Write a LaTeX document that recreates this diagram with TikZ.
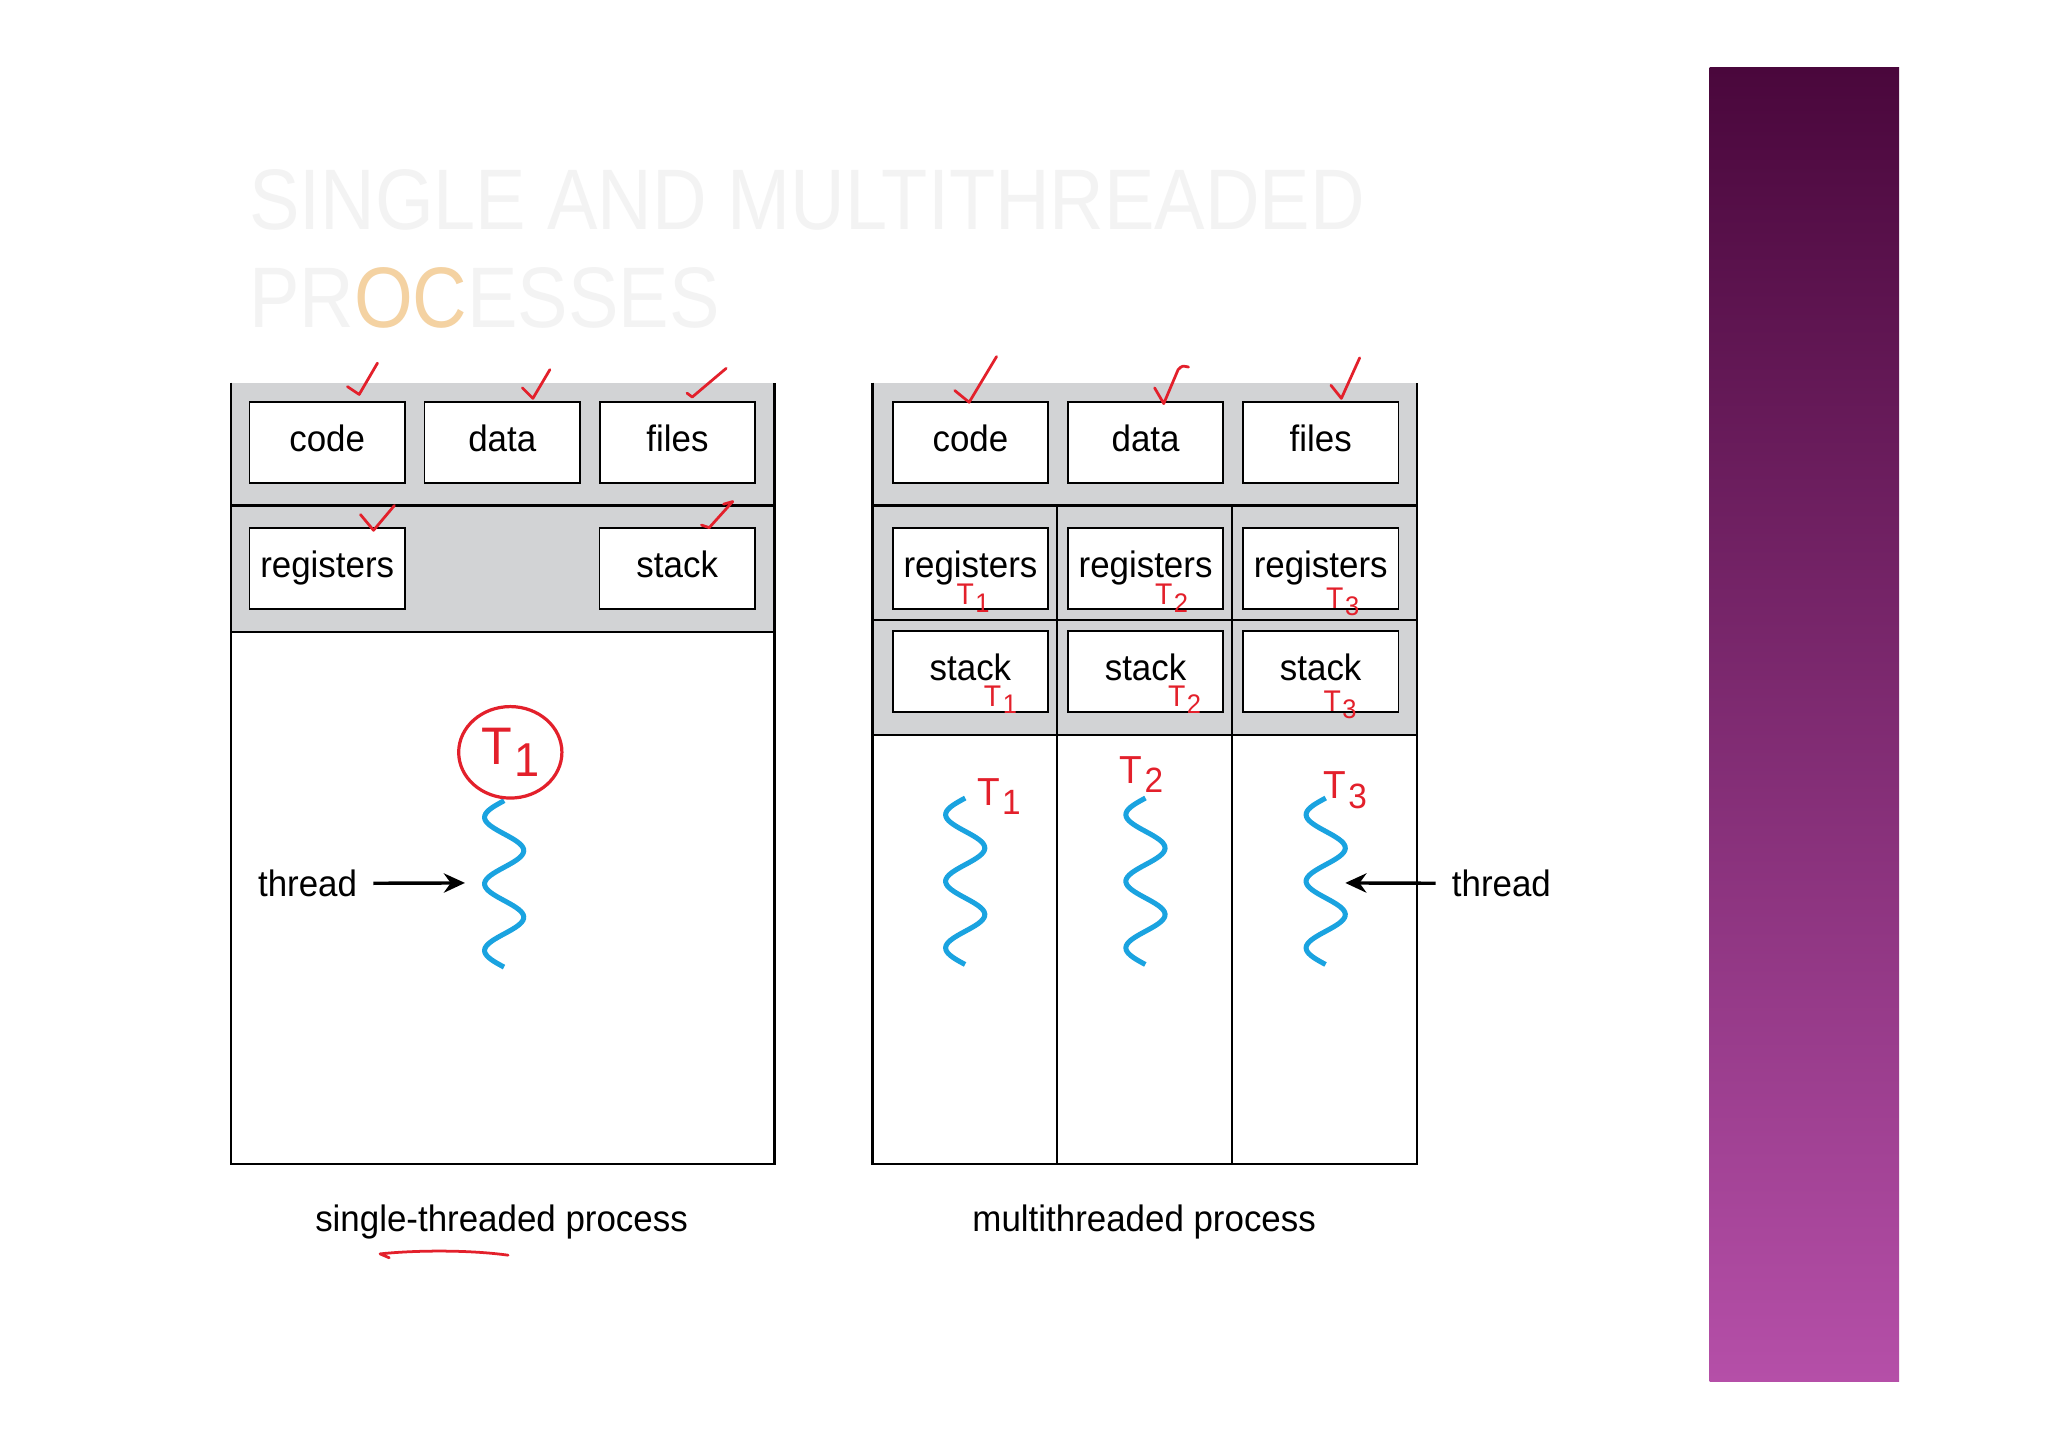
\documentclass[tikz,border=0pt]{standalone}
\usepackage{fontspec}
\setmainfont{Liberation Sans}[FakeStretch=0.95]
\newfontfamily\titlefont{Liberation Sans}[FakeStretch=0.88]
\usepackage{xcolor}
\usepackage{tikz}
\usetikzlibrary{positioning,backgrounds,arrows.meta,shapes.geometric}
\definecolor{procgray}{HTML}{D2D3D5}
\definecolor{inkred}{HTML}{E3202B}
\definecolor{thrblue}{HTML}{1AA3E0}
\definecolor{bartop}{HTML}{4A073C}
\definecolor{barbot}{HTML}{B54FA8}
\definecolor{titlegray}{HTML}{F3F3F3}
\definecolor{titleorange}{HTML}{F4D2A2}
\newcommand{\hT}[1]{T\kern0.05em\raisebox{-0.45ex}{\scalebox{0.9}{#1}}}

\begin{document}
\begin{tikzpicture}[x=0.01cm, y=-0.01cm, font=\fontsize{8}{9.6}\selectfont,
  >={Stealth[length=4.6pt, width=4.2pt]},
  box/.style={draw, fill=white, line width=0.4pt, minimum width=1.19cm, minimum height=0.62cm,
              inner sep=0pt, outer sep=0pt, text height=5.9pt, text depth=1.9pt},
  frame/.style={line width=0.45pt},
  ink/.style={draw=inkred, line width=0.6pt, line cap=round, line join=round},
  tag/.style={text=inkred, inner sep=0pt, font=\fontsize{6.5}{7}\selectfont},
  bigtag/.style={tag, font=\fontsize{8.5}{9}\selectfont},
  wavy/.style={thrblue, line width=1.1pt},
  ttl/.style={anchor=base west, inner sep=0pt, text=titlegray, font=\titlefont\fontsize{18.7}{20}\selectfont},
  node distance=1.72mm and 1.5mm]
  \useasboundingbox (0,0) rectangle (1568,1109);
  \node[ttl] (title1) at (190,176) {SINGLE AND MULTITHREADED};
  \node[ttl] (title2) at (190,251) {PR{\color{titleorange}OC}ESSES};

  \node[box] (code1) at (250.5,339) {code};
  \node[box, right=of code1] (data1) {data};
  \node[box, right=of data1] (files1) {files};
  \node[box] (regs1) at (250.5,435) {registers};
  \node[box] (stack1) at (518.5,435) {stack};

  \node[box] (code2) at (743,339) {code};
  \node[box, right=of code2] (data2) {data};
  \node[box, right=of data2] (files2) {files};
  \node[box] (regsA) at (743,435) {registers};
  \node[box, right=of regsA] (regsB) {registers};
  \node[box, right=of regsB] (regsC) {registers};
  \node[box, below=of regsA] (stackA) {stack};
  \node[box, below=of regsB] (stackB) {stack};
  \node[box, below=of regsC] (stackC) {stack};

  \draw[wavy] plot[domain=0:2.5, samples=90, smooth] ({386-15*sin(360*\x)}, {613+51*\x});
  \draw[wavy] plot[domain=0:2.5, samples=90, smooth] ({739-15*sin(360*\x)}, {611+51*\x});
  \draw[wavy] plot[domain=0:2.5, samples=90, smooth] ({877-15*sin(360*\x)}, {611+51*\x});
  \draw[wavy] plot[domain=0:2.5, samples=90, smooth] ({1015-15*sin(360*\x)}, {611+51*\x});

  \coordinate (tipL) at (356,676);
  \coordinate (tipR) at (1030,676);
  \node[anchor=base] (thrL) at (235.5,686.5) {thread};
  \node[anchor=base] (thrR) at (1149.5,686.5) {thread};
  \draw[->, line width=0.75pt] (thrL) -- (tipL);
  \draw[->, line width=0.75pt] (thrR) -- (tipR);

  \node[ellipse, draw=inkred, line width=0.7pt, minimum width=0.79cm, minimum height=0.70cm, inner sep=0pt,
        text=inkred, font=\fontsize{11.5}{12}\selectfont] (circT) at (390.7,576) {\hT{1}};
  \node[tag] (tR1) at (745,458) {\hT{1}};
  \node[tag] (tR2) at (897,458) {\hT{2}};
  \node[tag] (tR3) at (1028,461) {\hT{3}};
  \node[tag] (tS1) at (766,536) {\hT{1}};
  \node[tag] (tS2) at (907,536) {\hT{2}};
  \node[tag] (tS3) at (1026,540) {\hT{3}};
  \node[bigtag] (tT1) at (765,610) {\hT{1}};
  \node[bigtag] (tT2) at (874,593) {\hT{2}};
  \node[bigtag] (tT3) at (1030,605) {\hT{3}};

  \draw[ink] (266,296) -- (275,302) -- (289,278);
  \draw[ink] (400,297) -- (408,305) -- (421,283);
  \draw[ink] (526,301) -- (530,304) -- (556,282);
  \draw[ink] (276,394) -- (286,406) -- (302,387);
  \draw[ink] (537,402) -- (543,404) -- (561,384) -- (554,386);
  \draw[ink] (731,299) -- (742,308) -- (763,273);
  \draw[ink] (884,297) -- (891,309) -- (902,283) .. controls (905,280) .. (910,281);
  \draw[ink] (1019,295) -- (1027,305) -- (1041,274);

  \node[anchor=base] (capL) at (384,943) {single-threaded process};
  \node[anchor=base] (capR) at (876,943) {multithreaded process};
  \draw[ink] (389,961) .. controls (360,957) and (320,957) .. (291,960) -- (298,963);

  \begin{scope}[on background layer]
    \fill[white] (0,0) rectangle (1568,1109);
    \fill[procgray] (177,293) rectangle (593,484);
    \fill[procgray] (668,293) rectangle (1085,563);
    \draw[frame] (177,293) -- (177,891) -- (593,891) -- (593,293);
    \draw[frame] (177,387) -- (593,387) (177,484) -- (593,484);
    \draw[frame] (668,293) -- (668,891) -- (1085,891) -- (1085,293);
    \draw[frame] (668,387) -- (1085,387) (668,475) -- (1085,475) (668,563) -- (1085,563);
    \draw[frame] (809.5,387) -- (809.5,891) (943.5,387) -- (943.5,891);
    \shade[top color=bartop, bottom color=barbot] (1309,52) rectangle (1454,1058);
  \end{scope}
\end{tikzpicture}
\end{document}
